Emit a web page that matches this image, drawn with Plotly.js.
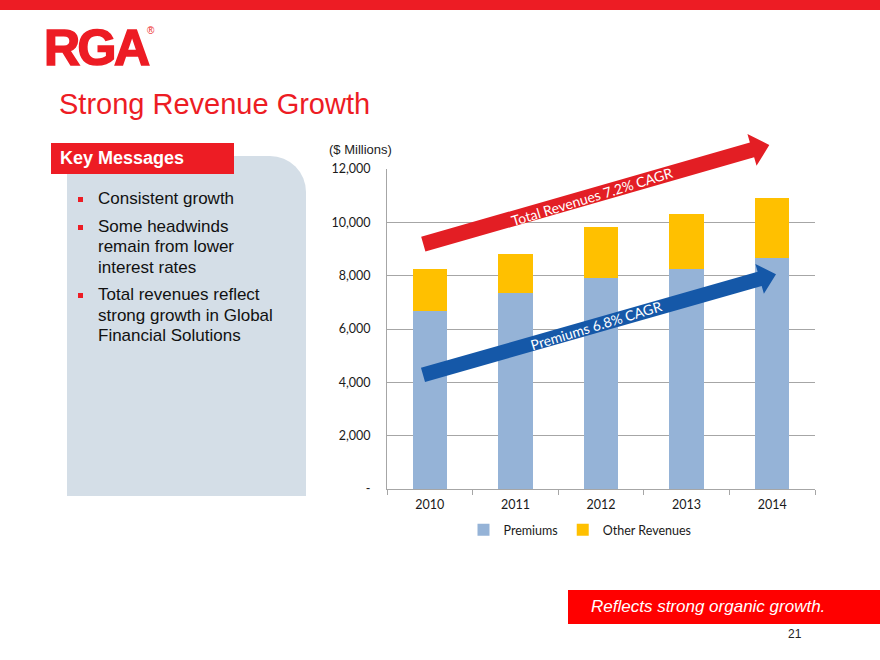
<!DOCTYPE html>
<html><head><meta charset="utf-8">
<script src="https://cdn.plot.ly/plotly-3.0.1.min.js"></script>
<style>
html,body{margin:0;padding:0;width:880px;height:660px;overflow:hidden;background:#fff;font-family:"Liberation Sans",Arial,sans-serif;}
#chart{position:absolute;left:0;top:0;width:880px;height:660px;z-index:2;}
.abs{position:absolute;}
.bul{position:absolute;left:98px;width:200px;font-size:17px;line-height:20.4px;color:#111;}
.sq{position:absolute;left:78px;width:5px;height:5px;background:#ED1C24;}
</style></head><body>
<div class="abs" style="left:0;top:0;width:880px;height:10px;background:#ED1C24"></div>
<div class="abs" style="left:44px;top:22.7px;font-size:50px;line-height:50px;font-weight:bold;color:#ED1C24;letter-spacing:-2.5px;-webkit-text-stroke:1.6px #ED1C24;">RGA</div>
<div class="abs" style="left:147px;top:26px;font-size:10px;line-height:10px;color:#ED1C24;">®</div>
<div class="abs" style="left:59px;top:89.5px;font-size:29px;line-height:29px;color:#ED1C24;white-space:nowrap;">Strong Revenue Growth</div>

<div class="abs" style="left:67px;top:156px;width:239px;height:340px;background:#D4DEE7;border-top-right-radius:36px;"></div>
<div class="abs" style="left:51px;top:143px;width:183px;height:31px;background:#ED1C24;"></div>
<div class="abs" style="left:60px;top:143px;height:31px;font-size:18px;line-height:31px;font-weight:bold;color:#fff;white-space:nowrap;">Key Messages</div>

<div class="sq" style="top:196.5px"></div>
<div class="bul" style="top:188.9px">Consistent growth</div>
<div class="sq" style="top:224.5px"></div>
<div class="bul" style="top:216.9px">Some headwinds<br>remain from lower<br>interest rates</div>
<div class="sq" style="top:293px"></div>
<div class="bul" style="top:285.3px;width:205px">Total revenues reflect<br>strong growth in Global<br>Financial Solutions</div>

<div class="abs" style="left:568px;top:590px;width:312px;height:34px;background:#FF0000;"></div>
<div class="abs" style="left:591px;top:590px;height:34px;font-size:17px;line-height:34px;font-style:italic;color:#fff;white-space:nowrap;">Reflects strong organic growth.</div>
<div class="abs" style="left:788px;top:627.5px;font-size:12px;line-height:12px;color:#222;">21</div>

<div id="chart"></div>
<script>
const years = ['2010', '2011', '2012', '2013', '2014'];
const premiums = [6660, 7340, 7920, 8250, 8680];
const otherRevenues = [1600, 1490, 1910, 2070, 2230];
const yTickVals = [0, 2000, 4000, 6000, 8000, 10000, 12000];
const yTickText = ['-', '2,000', '4,000', '6,000', '8,000', '10,000', '12,000'];
const unitLabel = '($ Millions)';
const totalArrowLabel = 'Total Revenues 7.2% CAGR';
const premArrowLabel = 'Premiums 6.8% CAGR';

// plot area in page pixels
const L = 387, R = 815, T = 169, B = 489;
const px = x => (x - L) / (R - L);
const py = y => (B - y) / (B - T);

function arrowPath(x0, y0, x1, y1, w, hw, hl) {
  const dx = x1 - x0, dy = y1 - y0, len = Math.hypot(dx, dy);
  const ux = dx / len, uy = dy / len, nx = -uy, ny = ux;
  const bx = x1 - ux * hl, by = y1 - uy * hl;
  const pts = [[x0 + nx * w, y0 + ny * w], [bx + nx * w, by + ny * w], [bx + nx * hw, by + ny * hw],
    [x1, y1], [bx - nx * hw, by - ny * hw], [bx - nx * w, by - ny * w], [x0 - nx * w, y0 - ny * w]];
  return 'M' + pts.map(p => px(p[0]).toFixed(5) + ',' + py(p[1]).toFixed(5)).join('L') + 'Z';
}

const chartFont = 'Lato, "Open Sans", sans-serif';
const traces = [
  {type: 'bar', name: 'Premiums', x: years, y: premiums, marker: {color: '#95B3D7'}, hoverinfo: 'y'},
  {type: 'bar', name: 'Other Revenues', x: years, y: otherRevenues, marker: {color: '#FFC000'}, hoverinfo: 'y'}
];

const layout = {
  width: 880, height: 660,
  margin: {l: L, r: 880 - R, t: T, b: 660 - B, pad: 0},
  barmode: 'stack', bargap: 0.6,
  paper_bgcolor: 'rgba(0,0,0,0)', plot_bgcolor: 'rgba(0,0,0,0)',
  font: {family: chartFont, size: 12.5, color: '#1a1a1a'},
  xaxis: {type: 'category', showline: true, linecolor: '#A6A6A6', linewidth: 1,
    ticks: 'outside', tickson: 'boundaries', ticklen: 5, tickcolor: '#A6A6A6',
    ticklabelstandoff: 4, showgrid: false, zeroline: false, fixedrange: true},
  yaxis: {range: [0, 12000], tickmode: 'array', tickvals: yTickVals, ticktext: yTickText,
    showgrid: true, gridcolor: '#A6A6A6', gridwidth: 1, showline: true, linecolor: '#A6A6A6',
    ticks: '', ticklabelstandoff: 13, zeroline: false, fixedrange: true},
  showlegend: true,
  legend: {orientation: 'h', traceorder: 'normal', x: px(580), xanchor: 'center', y: py(530), yanchor: 'middle',
    font: {family: chartFont, size: 12.5, color: '#1a1a1a'}, bgcolor: 'rgba(0,0,0,0)'},
  shapes: [
    {type: 'path', xref: 'paper', yref: 'paper', layer: 'above', line: {width: 0},
      fillcolor: '#E31E24', path: arrowPath(423.3, 244.2, 769.3, 145, 7.7, 16.5, 18)},
    {type: 'path', xref: 'paper', yref: 'paper', layer: 'above', line: {width: 0},
      fillcolor: '#1558A8', path: arrowPath(423, 374.9, 776, 274.3, 7.4, 15.5, 17)}
  ],
  annotations: [
    {xref: 'paper', yref: 'paper', x: px(327), y: py(149), xanchor: 'left', yanchor: 'middle',
      text: unitLabel, showarrow: false, font: {family: '"Liberation Sans", Arial, sans-serif', size: 13, color: '#222'}},
    {xref: 'paper', yref: 'paper', x: px(592), y: py(196.5), xanchor: 'center', yanchor: 'middle',
      text: totalArrowLabel, showarrow: false, textangle: -17, font: {family: chartFont, size: 14, color: '#fff'}},
    {xref: 'paper', yref: 'paper', x: px(595.5), y: py(325.7), xanchor: 'center', yanchor: 'middle',
      text: premArrowLabel, showarrow: false, textangle: -17, font: {family: chartFont, size: 14, color: '#fff'}}
  ]
};

Plotly.newPlot('chart', traces, layout, {displayModeBar: false, staticPlot: true});
</script>
</body></html>
